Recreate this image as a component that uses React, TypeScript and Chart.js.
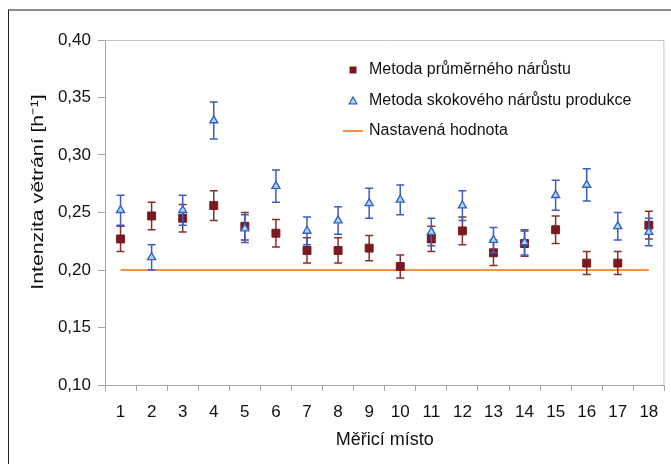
import React, { useEffect, useRef } from 'react';
import { Chart, registerables } from 'chart.js';

Chart.register(...registerables);

// Measuring places (x categories)
const places = ['1', '2', '3', '4', '5', '6', '7', '8', '9', '10', '11', '12', '13', '14', '15', '16', '17', '18'];

// Metoda průměrného nárůstu – values and error half-widths
const averageGrowth = [0.227, 0.247, 0.245, 0.256, 0.238, 0.232, 0.217, 0.217, 0.219, 0.203, 0.227, 0.234, 0.215, 0.223, 0.235, 0.206, 0.206, 0.239];
const averageGrowthErr = [0.011, 0.012, 0.012, 0.013, 0.012, 0.012, 0.011, 0.011, 0.011, 0.010, 0.011, 0.012, 0.011, 0.011, 0.012, 0.010, 0.010, 0.012];

// Metoda skokového nárůstu produkce – values and error half-widths
const stepGrowth = [0.252, 0.211, 0.252, 0.330, 0.236, 0.273, 0.234, 0.243, 0.258, 0.261, 0.233, 0.256, 0.226, 0.224, 0.265, 0.274, 0.238, 0.233];
const stepGrowthErr = [0.013, 0.011, 0.013, 0.016, 0.012, 0.014, 0.012, 0.012, 0.013, 0.013, 0.012, 0.013, 0.011, 0.011, 0.013, 0.014, 0.012, 0.012];

// Nastavená hodnota
const setValue = 0.2;

const yMin = 0.1;
const yMax = 0.4;
const yStep = 0.05;

const yTitle = 'Intenzita větrání [h⁻¹]';
const xTitle = 'Měřicí místo';

const FONT = "'Liberation Sans', Arial, sans-serif";
const RED = '#7a1a1f';
const RED_ERR = '#86302f';
const BLUE = '#3b5ec4';
const BLUE_FILL = '#a6dde8';
const ORANGE = '#f7923f';
const AXIS_GRAY = '#a6a6a6';

// Vertical error bars drawn just before each point series
const errorBars = {
  id: 'errorBars',
  beforeDatasetDraw(chart: any, args: any) {
    const ds = chart.data.datasets[args.index];
    if (!ds.errors) return;
    const y = chart.scales.y;
    const ctx = chart.ctx;
    ctx.save();
    ctx.strokeStyle = ds.errorColor;
    ctx.lineWidth = 1.5;
    args.meta.data.forEach((pt: any, i: number) => {
      const v = ds.data[i];
      const e = ds.errors[i];
      const top = y.getPixelForValue(v + e);
      const bot = y.getPixelForValue(v - e);
      const x = pt.x;
      ctx.beginPath();
      ctx.moveTo(x, top);
      ctx.lineTo(x, bot);
      ctx.moveTo(x - 4, top);
      ctx.lineTo(x + 4, top);
      ctx.moveTo(x - 4, bot);
      ctx.lineTo(x + 4, bot);
      ctx.stroke();
    });
    ctx.restore();
  },
};

// Light frame around the plot area
const plotFrame = {
  id: 'plotFrame',
  beforeDatasetsDraw(chart: any) {
    const { ctx, chartArea: a } = chart;
    ctx.save();
    ctx.strokeStyle = '#c4c4c4';
    ctx.lineWidth = 1;
    ctx.beginPath();
    ctx.moveTo(a.left, a.top + 0.5);
    ctx.lineTo(a.right - 0.5, a.top + 0.5);
    ctx.lineTo(a.right - 0.5, a.bottom);
    ctx.stroke();
    ctx.restore();
  },
};

// Rotated y-axis title, drawn a little elongated
const yAxisTitle = {
  id: 'yAxisTitle',
  afterDraw(chart: any) {
    const ctx = chart.ctx;
    ctx.save();
    ctx.translate(38, 192);
    ctx.rotate(-Math.PI / 2);
    ctx.scale(1.25, 1);
    ctx.fillStyle = '#111';
    ctx.font = `17px ${FONT}`;
    ctx.textAlign = 'center';
    ctx.textBaseline = 'middle';
    ctx.fillText(yTitle, 0, 0);
    ctx.restore();
  },
};

// Legend placed inside the plot area
const insideLegend = {
  id: 'insideLegend',
  afterDraw(chart: any) {
    const ctx = chart.ctx;
    const markX = 353;
    const textX = 369;
    const rows = [70, 101, 131];
    ctx.save();
    // square
    ctx.fillStyle = RED;
    ctx.fillRect(markX - 3.5, rows[0] - 3.5, 7, 7);
    // triangle
    ctx.beginPath();
    ctx.moveTo(markX, rows[1] - 4);
    ctx.lineTo(markX + 3.8, rows[1] + 2.8);
    ctx.lineTo(markX - 3.8, rows[1] + 2.8);
    ctx.closePath();
    ctx.fillStyle = BLUE_FILL;
    ctx.fill();
    ctx.strokeStyle = BLUE;
    ctx.lineWidth = 1.3;
    ctx.stroke();
    // line
    ctx.strokeStyle = ORANGE;
    ctx.lineWidth = 2;
    ctx.beginPath();
    ctx.moveTo(343, rows[2]);
    ctx.lineTo(363, rows[2]);
    ctx.stroke();
    // labels
    ctx.fillStyle = '#111';
    ctx.font = `16px ${FONT}`;
    ctx.textBaseline = 'middle';
    ctx.textAlign = 'left';
    const ds = chart.data.datasets;
    ctx.fillText(ds[1].label, textX, rows[0]);
    ctx.fillText(ds[2].label, textX, rows[1]);
    ctx.fillText(ds[0].label, textX, rows[2]);
    ctx.restore();
  },
};

export default function App() {
  const canvasRef = useRef<HTMLCanvasElement | null>(null);

  useEffect(() => {
    if (!canvasRef.current) return;
    const chart = new Chart(canvasRef.current, {
      type: 'line',
      data: {
        labels: places,
        datasets: [
          {
            label: 'Nastavená hodnota',
            data: places.map(() => setValue),
            borderColor: ORANGE,
            borderWidth: 2,
            pointRadius: 0,
            fill: false,
            order: 2,
          },
          {
            label: 'Metoda průměrného nárůstu',
            data: averageGrowth,
            errors: averageGrowthErr,
            errorColor: RED_ERR,
            showLine: false,
            pointStyle: 'rect',
            pointRadius: 5.6,
            pointBackgroundColor: RED,
            pointBorderColor: RED,
            pointBorderWidth: 1,
            order: 1,
          } as any,
          {
            label: 'Metoda skokového nárůstu produkce',
            data: stepGrowth,
            errors: stepGrowthErr,
            errorColor: BLUE,
            showLine: false,
            pointStyle: 'triangle',
            pointRadius: 4.6,
            pointBackgroundColor: BLUE_FILL,
            pointBorderColor: BLUE,
            pointBorderWidth: 1.4,
            order: 0,
          } as any,
        ],
      },
      options: {
        responsive: false,
        animation: false,
        events: [],
        layout: { padding: { left: 0, top: 40, right: 5, bottom: 0 } },
        plugins: {
          legend: { display: false },
          tooltip: { enabled: false },
        },
        scales: {
          x: {
            offset: true,
            grid: {
              offset: true,
              drawOnChartArea: false,
              tickLength: 6,
              color: AXIS_GRAY,
            },
            border: { color: AXIS_GRAY, width: 1 },
            ticks: {
              color: '#111',
              font: { family: FONT, size: 17 },
              padding: 11,
              maxRotation: 0,
              autoSkip: false,
            },
            title: {
              display: true,
              text: xTitle,
              color: '#111',
              font: { family: FONT, size: 18 },
              padding: { top: 0, bottom: 13 },
            },
            afterFit(scale: any) {
              scale.height = 79;
            },
          },
          y: {
            min: yMin,
            max: yMax,
            grid: {
              drawOnChartArea: false,
              tickLength: 7,
              color: AXIS_GRAY,
            },
            border: { color: AXIS_GRAY, width: 1 },
            ticks: {
              stepSize: yStep,
              color: '#111',
              font: { family: FONT, size: 17 },
              padding: 7,
              callback: (v: any) => Number(v).toFixed(2).replace('.', ','),
            },
            title: { display: false },
            afterFit(scale: any) {
              scale.width = 105;
            },
          },
        },
      },
      plugins: [errorBars, plotFrame, yAxisTitle, insideLegend],
    });
    return () => chart.destroy();
  }, []);

  return (
    <div style={{ position: 'fixed', left: 0, top: 0, width: 671, height: 464, background: '#fff' }}>
      <div
        style={{
          position: 'absolute',
          left: 8,
          top: 9,
          right: 0,
          bottom: 0,
          borderTop: '2px solid #8c8c8c',
          borderLeft: '1px solid #222',
        }}
      />
      <canvas
        ref={canvasRef}
        width={671}
        height={464}
        style={{ position: 'absolute', left: 0, top: 0, width: 671, height: 464 }}
      />
    </div>
  );
}
